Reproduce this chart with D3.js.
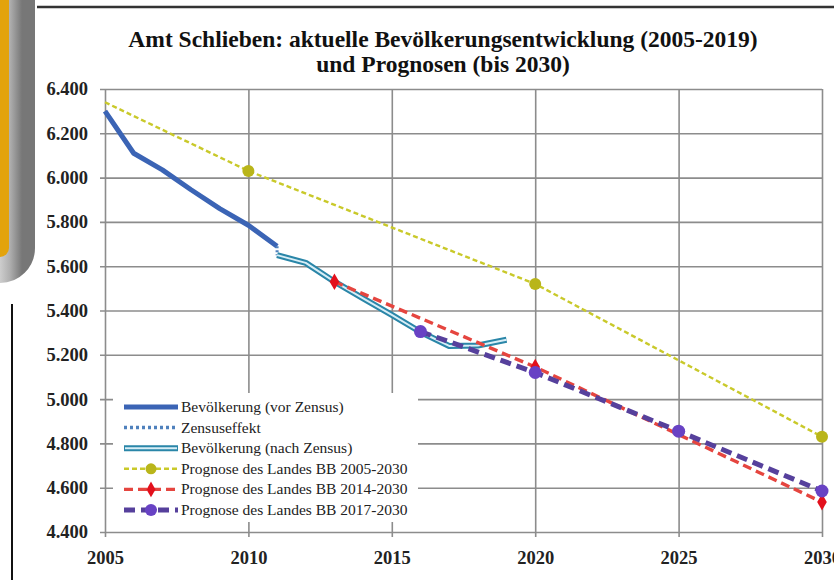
<!DOCTYPE html>
<html>
<head>
<meta charset="utf-8">
<script src="https://cdn.jsdelivr.net/npm/d3@7"></script>
<style>
  body { margin: 0; background: #fff; }
  svg { display: block; }
</style>
</head>
<body>
<div id="chart"></div>
<script>
// --- data ---
const titleLines = ["Amt Schlieben: aktuelle Bevölkerungsentwicklung (2005-2019)", "und Prognosen (bis 2030)"];

const jahreVor = [2005, 2006, 2007, 2008, 2009, 2010, 2011];
const bevVor = [6300, 6110, 6035, 5945, 5860, 5785, 5690];

const jahreZensus = [2011, 2011];
const bevZensus = [5690, 5650];

const jahreNach = [2011, 2012, 2013, 2014, 2015, 2016, 2017, 2018, 2019];
const bevNach = [5650, 5615, 5530, 5455, 5380, 5303, 5240, 5242, 5268];

const jahreP2005 = [2005, 2010, 2020, 2030];
const werteP2005 = [6340, 6030, 5520, 4830];

const jahreP2014 = [2013, 2020, 2030];
const werteP2014 = [5530, 5145, 4535];

const jahreP2017 = [2016, 2020, 2025, 2030];
const werteP2017 = [5305, 5120, 4855, 4585];

const xTicks = [2005, 2010, 2015, 2020, 2025, 2030];
const yTicks = [4400, 4600, 4800, 5000, 5200, 5400, 5600, 5800, 6000, 6200, 6400];

const legendLabels = [
  "Bevölkerung (vor Zensus)",
  "Zensuseffekt",
  "Bevölkerung (nach Zensus)",
  "Prognose des Landes BB 2005-2030",
  "Prognose des Landes BB 2014-2030",
  "Prognose des Landes BB 2017-2030"
];

const W = 834, H = 580;
const plot = { left: 105, right: 822, top: 89, bottom: 532 };
const serif = "'Liberation Serif', 'DejaVu Serif', serif";

const de = d3.formatLocale({ decimal: ",", thousands: ".", grouping: [3], currency: ["", "€"] });
const fmt = de.format(",d");

const svg = d3.select("#chart").append("svg")
  .attr("width", W).attr("height", H);

// --- page decoration (frame pieces around the chart) ---
const defs = svg.append("defs");
const grad = defs.append("linearGradient").attr("id", "frameGrad")
  .attr("x1", "0").attr("x2", "1").attr("y1", "0").attr("y2", "0");
grad.append("stop").attr("offset", "0").attr("stop-color", "#8a8a8a");
grad.append("stop").attr("offset", "0.45").attr("stop-color", "#f2f2f2");
grad.append("stop").attr("offset", "0.8").attr("stop-color", "#b0b0b0");
grad.append("stop").attr("offset", "1").attr("stop-color", "#777");

svg.append("rect")
  .attr("x", -40).attr("y", -40).attr("width", 62).attr("height", 310)
  .attr("rx", 22)
  .attr("fill", "#e3a30c")
  .attr("stroke", "url(#frameGrad)").attr("stroke-width", 26);

svg.append("line")
  .attr("x1", 37).attr("x2", W).attr("y1", 7).attr("y2", 7)
  .attr("stroke", "#333").attr("stroke-width", 2.5);
svg.append("line")
  .attr("x1", 12).attr("x2", 12).attr("y1", 304).attr("y2", H)
  .attr("stroke", "#111").attr("stroke-width", 2);

// --- scales ---
const x = d3.scaleLinear().domain([2005, 2030]).range([plot.left, plot.right]);
const y = d3.scaleLinear().domain([4400, 6400]).range([plot.bottom, plot.top]);

// --- title ---
svg.append("g").selectAll("text")
  .data(titleLines)
  .join("text")
  .attr("x", 443)
  .attr("y", (d, i) => 47 + i * 25)
  .attr("text-anchor", "middle")
  .attr("font-family", serif)
  .attr("font-weight", "bold")
  .attr("font-size", 23.5)
  .attr("fill", "#111")
  .text(d => d);

// --- axes + gridlines ---
const yAxis = svg.append("g")
  .attr("transform", `translate(${plot.left - 5},0)`)
  .call(d3.axisLeft(y).tickValues(yTicks).tickFormat(fmt)
    .tickSize(-(plot.right - plot.left + 5)).tickPadding(12));

const xAxis = svg.append("g")
  .attr("transform", `translate(0,${plot.bottom + 5})`)
  .call(d3.axisBottom(x).tickValues(xTicks).tickFormat(d3.format("d"))
    .tickSize(-(plot.bottom - plot.top + 5)).tickPadding(14));

[yAxis, xAxis].forEach(ax => {
  ax.select(".domain").remove();
  ax.selectAll(".tick line").attr("stroke", "#8c8c8c").attr("stroke-width", 1.6);
  ax.selectAll(".tick text")
    .attr("font-family", serif)
    .attr("font-weight", "bold")
    .attr("font-size", 18.5)
    .attr("fill", "#222");
});

// --- lines ---
const line = d3.line().x(d => x(d[0])).y(d => y(d[1]));
const pairs = (xs, vs) => xs.map((v, i) => [v, vs[i]]);

const g = svg.append("g");

g.append("path").attr("d", line(pairs(jahreVor, bevVor)))
  .attr("fill", "none").attr("stroke", "#3b64b5").attr("stroke-width", 5)
  .attr("stroke-linejoin", "round");

g.append("path").attr("d", line(pairs(jahreZensus, bevZensus)))
  .attr("fill", "none").attr("stroke", "#4f81bd").attr("stroke-width", 3)
  .attr("stroke-dasharray", "2,2");

const nach = pairs(jahreNach, bevNach);
g.append("path").attr("d", line(nach))
  .attr("fill", "none").attr("stroke", "#2a86a8").attr("stroke-width", 6)
  .attr("stroke-linejoin", "round");
g.append("path").attr("d", line(nach))
  .attr("fill", "none").attr("stroke", "#d8eef7").attr("stroke-width", 2)
  .attr("stroke-linejoin", "round");

const p2005 = pairs(jahreP2005, werteP2005);
g.append("path").attr("d", line(p2005))
  .attr("fill", "none").attr("stroke", "#c9c92a").attr("stroke-width", 2.4)
  .attr("stroke-dasharray", "5,3");
g.selectAll(".m2005").data(p2005.slice(1)).join("circle")
  .attr("cx", d => x(d[0])).attr("cy", d => y(d[1])).attr("r", 6)
  .attr("fill", "#b9b51a");

const p2014 = pairs(jahreP2014, werteP2014);
g.append("path").attr("d", line(p2014))
  .attr("fill", "none").attr("stroke", "#e5453f").attr("stroke-width", 3.4)
  .attr("stroke-dasharray", "9,5");
g.selectAll(".m2014").data(p2014).join("path")
  .attr("transform", d => `translate(${x(d[0])},${y(d[1])})`)
  .attr("d", d3.symbol(d3.symbolDiamond, 80))
  .attr("fill", "#e3101c");

const p2017 = pairs(jahreP2017, werteP2017);
g.append("path").attr("d", line(p2017))
  .attr("fill", "none").attr("stroke", "#56409c").attr("stroke-width", 5)
  .attr("stroke-dasharray", "11,6");
g.selectAll(".m2017").data(p2017).join("circle")
  .attr("cx", d => x(d[0])).attr("cy", d => y(d[1])).attr("r", 6.5)
  .attr("fill", "#6842c4");

// --- legend ---
const legend = svg.append("g");
legend.append("rect")
  .attr("x", 113).attr("y", 393).attr("width", 305).attr("height", 129)
  .attr("fill", "#fff");

const rowY = i => 407 + i * 20.6;
const sx0 = 124, sx1 = 178, smid = 151;

legendLabels.forEach((lab, i) => {
  const yy = rowY(i);
  const seg = legend.append("g");
  const add = () => seg.append("line").attr("x1", sx0).attr("x2", sx1).attr("y1", yy).attr("y2", yy)
    .attr("fill", "none").attr("stroke-linecap", "butt");
  if (i === 0) add().attr("stroke", "#3b64b5").attr("stroke-width", 5);
  if (i === 1) add().attr("stroke", "#4f81bd").attr("stroke-width", 3.5).attr("stroke-dasharray", "3,3");
  if (i === 2) {
    add().attr("stroke", "#2a86a8").attr("stroke-width", 6);
    add().attr("stroke", "#d8eef7").attr("stroke-width", 2).attr("x1", sx0 + 1).attr("x2", sx1 - 1);
  }
  if (i === 3) {
    add().attr("stroke", "#c9c92a").attr("stroke-width", 2.4).attr("stroke-dasharray", "5,3");
    seg.append("circle").attr("cx", smid).attr("cy", yy).attr("r", 5.5).attr("fill", "#b9b51a");
  }
  if (i === 4) {
    add().attr("stroke", "#e5453f").attr("stroke-width", 3.4).attr("stroke-dasharray", "9,5");
    seg.append("path").attr("transform", `translate(${smid},${yy})`)
      .attr("d", d3.symbol(d3.symbolDiamond, 70)).attr("fill", "#e3101c");
  }
  if (i === 5) {
    add().attr("stroke", "#56409c").attr("stroke-width", 5).attr("stroke-dasharray", "11,6");
    seg.append("circle").attr("cx", smid).attr("cy", yy).attr("r", 6).attr("fill", "#6842c4");
  }
  legend.append("text")
    .attr("x", 181).attr("y", yy + 5)
    .attr("font-family", serif)
    .attr("font-size", 15.5)
    .attr("fill", "#222")
    .text(lab);
});
</script>
</body>
</html>
